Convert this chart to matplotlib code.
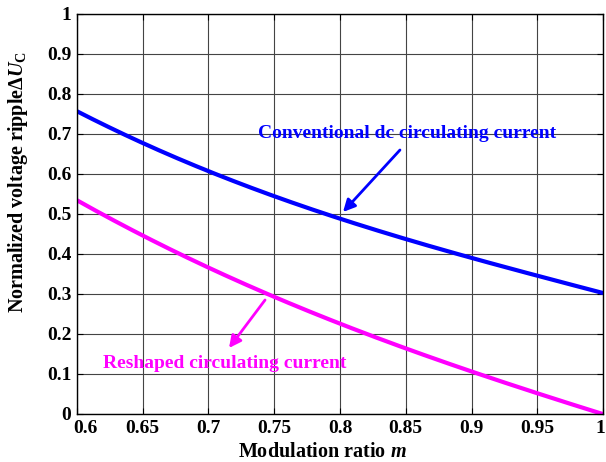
import numpy as np
import matplotlib.pyplot as plt
import matplotlib.transforms as mtrans

# Modulation ratio samples and curve values
m = [0.6, 0.65, 0.7, 0.75, 0.8, 0.85, 0.9, 0.95, 1.0]
conventional = [0.757, 0.678, 0.605, 0.545, 0.490, 0.437, 0.390, 0.345, 0.303]
reshaped = [0.535, 0.445, 0.365, 0.295, 0.225, 0.165, 0.105, 0.052, 0.0]
xtick_labels = ['0.6', '0.65', '0.7', '0.75', '0.8', '0.85', '0.9', '0.95', '1']
ytick_labels = ['0', '0.1', '0.2', '0.3', '0.4', '0.5', '0.6', '0.7', '0.8', '0.9', '1']

plt.rcParams['font.family'] = 'Liberation Serif'
plt.rcParams['font.weight'] = 'bold'
plt.rcParams['mathtext.fontset'] = 'custom'
plt.rcParams['mathtext.rm'] = 'Liberation Serif:bold'
plt.rcParams['mathtext.it'] = 'Liberation Serif:italic:bold'
plt.rcParams['mathtext.bf'] = 'Liberation Serif:bold'

fig = plt.figure(figsize=(6.06, 4.62), dpi=100)
ax = fig.add_axes([77/606, 48/462, 526/606, 400/462])

xs = np.linspace(0.6, 1.0, 200)
blue = np.poly1d(np.polyfit(m, conventional, 3))
pink = np.poly1d(np.polyfit(m, reshaped, 3))
ax.plot(xs, blue(xs), color='#0000ff', lw=3, solid_capstyle='round')
ax.plot(xs, pink(xs), color='#ff00ff', lw=3, solid_capstyle='round')

ax.set_xlim(0.6, 1.0)
ax.set_ylim(0, 1)
ax.set_xticks(np.linspace(0.6, 1.0, 9))
ax.set_xticklabels(xtick_labels)
ax.set_yticks(np.linspace(0, 1, 11))
ax.set_yticklabels(ytick_labels)
ax.tick_params(direction='in', top=True, right=True, labelsize=14, length=4, pad=4)
# nudge the end x labels so they clear the y-axis "0" and the right edge
xl = ax.get_xticklabels()
xl[0].set_transform(xl[0].get_transform() + mtrans.ScaledTranslation(8/100, 0, fig.dpi_scale_trans))
xl[-1].set_transform(xl[-1].get_transform() + mtrans.ScaledTranslation(-3/100, 0, fig.dpi_scale_trans))
ax.grid(True, color='#444444', lw=0.8)
for s in ax.spines.values():
    s.set_linewidth(1.0)

ax.set_xlabel('Modulation ratio $m$', fontsize=14.5, fontweight='bold', va='center')
ax.xaxis.set_label_coords((322 - 77) / 526, (414 - 452) / 400)
ax.set_ylabel(r'Normalized voltage ripple$\Delta U_{\mathrm{C}}$', fontsize=14.5,
              fontweight='bold', va='center')
ax.yaxis.set_label_coords((18 - 77) / 526, (414 - 182) / 400)

ax.text(0.6 + (258 - 77) / 526 * 0.4, 0.70, 'Conventional dc circulating current',
        color='#0000ff', fontsize=14, fontweight='bold', va='center')
ax.annotate('', xy=(0.8023, 0.505), xytext=(0.8456, 0.66),
            arrowprops=dict(arrowstyle='-|>', color='#0000ff', lw=2, mutation_scale=18,
                            shrinkA=0, shrinkB=0))

ax.text(0.6 + (103 - 77) / 526 * 0.4, 0.125, 'Reshaped circulating current', color='#ff00ff',
        fontsize=14, fontweight='bold', va='center')
ax.annotate('', xy=(0.7156, 0.165), xytext=(0.743, 0.285),
            arrowprops=dict(arrowstyle='-|>', color='#ff00ff', lw=2, mutation_scale=18,
                            shrinkA=0, shrinkB=0))

fig.savefig('out.png', dpi=100)
